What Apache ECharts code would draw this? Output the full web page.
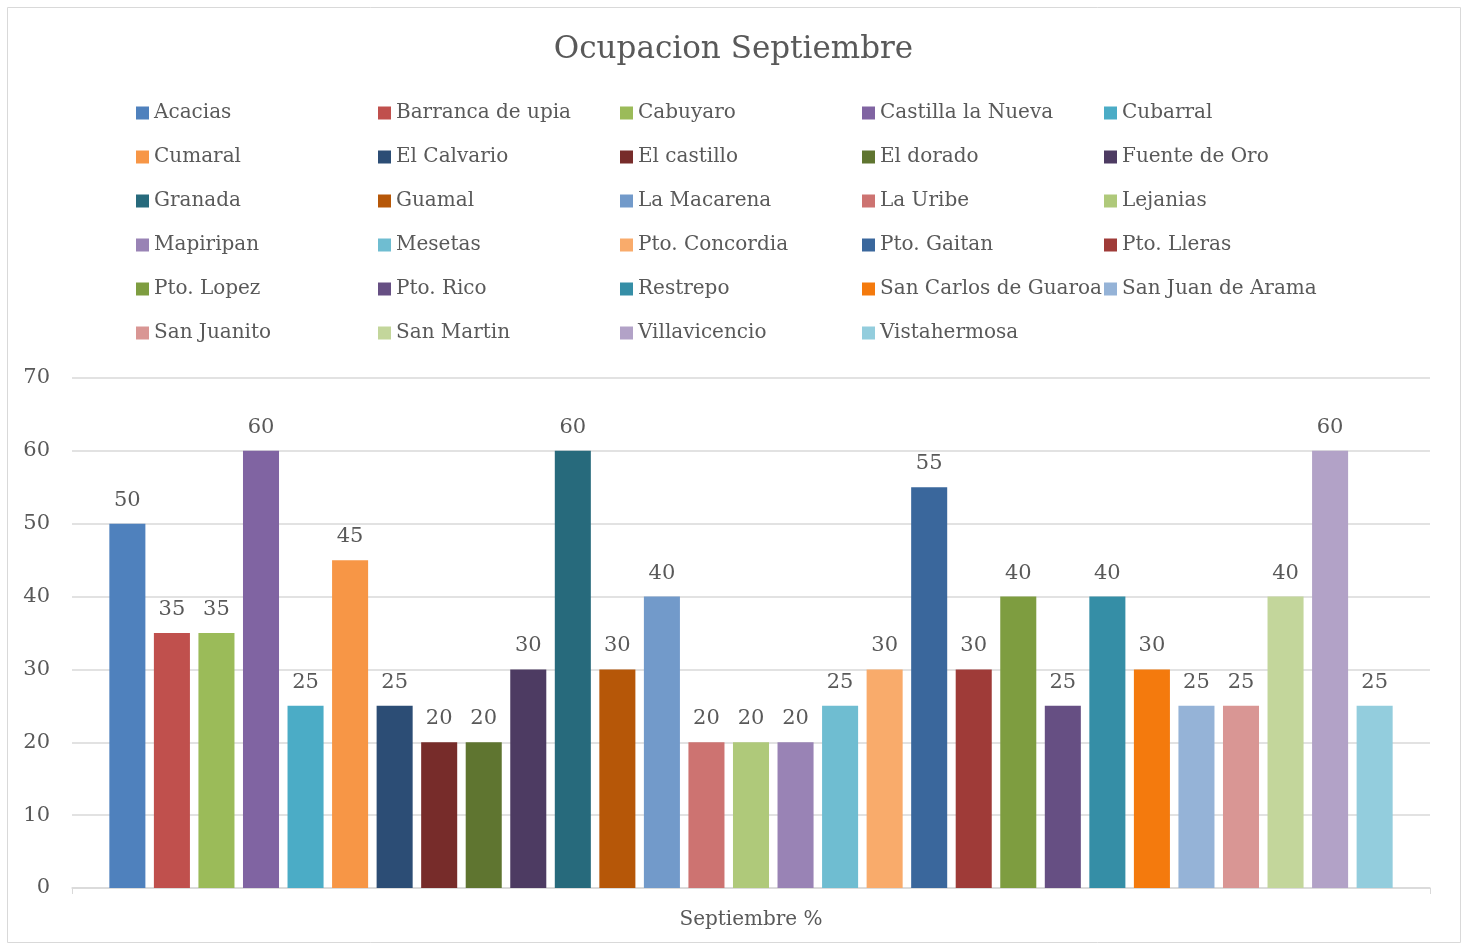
<!DOCTYPE html>
<html>
<head>
<meta charset="utf-8">
<script src="https://cdn.jsdelivr.net/npm/echarts@6/dist/echarts.min.js"></script>
<style>
  html, body { margin: 0; padding: 0; background: #fff; }
  #chart { width: 1467px; height: 946px; }
</style>
</head>
<body>
<div id="chart"></div>
<script>
// datos
const category = ['Septiembre %']
const municipios = [
  'Acacias', 'Barranca de upia', 'Cabuyaro', 'Castilla la Nueva', 'Cubarral',
  'Cumaral', 'El Calvario', 'El castillo', 'El dorado', 'Fuente de Oro',
  'Granada', 'Guamal', 'La Macarena', 'La Uribe', 'Lejanias',
  'Mapiripan', 'Mesetas', 'Pto. Concordia', 'Pto. Gaitan', 'Pto. Lleras',
  'Pto. Lopez', 'Pto. Rico', 'Restrepo', 'San Carlos de Guaroa', 'San Juan de Arama',
  'San Juanito', 'San Martin', 'Villavicencio', 'Vistahermosa'
]
const ocupacion = [
  50, 35, 35, 60, 25,
  45, 25, 20, 20, 30,
  60, 30, 40, 20, 20,
  20, 25, 30, 55, 30,
  40, 25, 40, 30, 25,
  25, 40, 60, 25
]
const colores = [
  '#4F81BD', '#C0504D', '#9BBB59', '#8064A2', '#4BACC6',
  '#F79646', '#2C4D75', '#772C2A', '#5F7530', '#4D3B62',
  '#276A7C', '#B65708', '#729ACA', '#CD7371', '#AFC97A',
  '#9983B5', '#6FBDD1', '#F9AB6B', '#3A679C', '#9F3B38',
  '#7E9D40', '#664F83', '#358EA6', '#F47A0D', '#95B3D7',
  '#D99694', '#C3D69B', '#B2A2C7', '#93CDDD'
]

const fuente = '"DejaVu Serif", serif'
const gris = '#595959'

let series = []
for (let i = 0; i < municipios.length; i++) {
  series.push({
    name: municipios[i],
    type: 'bar',
    data: [ocupacion[i]],
    itemStyle: { color: colores[i] },
    barGap: '23.6%',
    barCategoryGap: '5.5%',
    label: {
      show: true,
      position: 'top',
      distance: 13,
      color: gris,
      fontSize: 21,
      fontFamily: fuente,
    },
  })
}

const option = {
  animation: false,
  textStyle: { fontFamily: fuente },
  graphic: [{
    type: 'rect',
    shape: { x: 7.5, y: 7.5, width: 1453, height: 935 },
    style: { fill: 'none', stroke: '#d9d9d9', lineWidth: 1 },
    silent: true,
  }],
  title: {
    text: 'Ocupacion Septiembre',
    left: 'center',
    top: 29,
    textStyle: { fontFamily: fuente, fontSize: 31, fontWeight: 'normal', color: gris },
  },
  legend: {
    left: 131,
    top: 86,
    width: 1215,
    itemGap: 0,
    itemWidth: 13,
    itemHeight: 13,
    icon: 'rect',
    data: municipios,
    textStyle: {
      fontFamily: fuente,
      fontSize: 20,
      color: gris,
      width: 224,
      height: 44,
      lineHeight: 44,
      overflow: 'none',
    },
  },
  grid: { left: 72, right: 37, top: 378, bottom: 58 },
  xAxis: {
    type: 'category',
    data: category,
    axisLine: { lineStyle: { color: '#d9d9d9', width: 1.5 } },
    axisTick: { show: true, length: 6, lineStyle: { color: '#d9d9d9' } },
    axisLabel: { color: gris, fontSize: 20, fontFamily: fuente, margin: 22 },
  },
  yAxis: {
    type: 'value',
    min: 0,
    max: 70,
    interval: 10,
    axisLine: { show: false },
    axisTick: { show: false },
    axisLabel: { color: gris, fontSize: 21, fontFamily: fuente, margin: 22 },
    splitLine: { lineStyle: { color: '#d9d9d9', width: 1.5 } },
  },
  series: series,
}

const chart = echarts.init(document.getElementById('chart'))
chart.setOption(option)
</script>
</body>
</html>
